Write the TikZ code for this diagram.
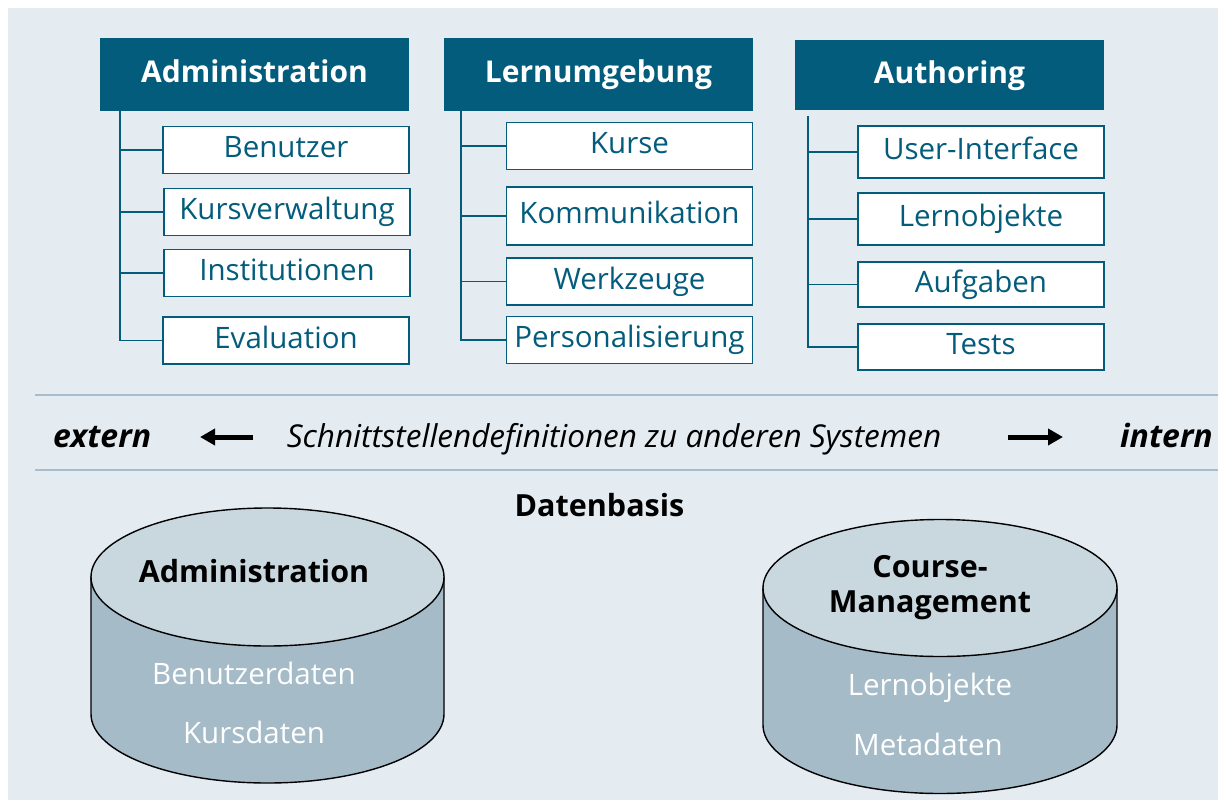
\documentclass[tikz,border=0pt]{standalone}
\usepackage{fontspec}
\setmainfont{Open Sans}
\usetikzlibrary{arrows.meta}
\definecolor{petrol}{HTML}{045C7C}
\definecolor{grund}{HTML}{E4ECF2}
\definecolor{trenner}{HTML}{A9BCCB}
\definecolor{deckel}{HTML}{C9D7DF}
\definecolor{mantel}{HTML}{A5BBC8}
\begin{document}
\begin{tikzpicture}[x=1pt,y=-1pt,
        kopf/.style={fill=petrol,text=white,minimum width=309pt,minimum height=73pt,inner sep=0pt,text height=22pt,text depth=6pt,font=\fontsize{30}{36}\selectfont\bfseries},
        fach/.style={draw=petrol,line width=1.8pt,fill=white,text=petrol,minimum width=246pt,minimum height=47pt,inner sep=0pt,text height=20pt,text depth=5pt,font=\fontsize{29.5}{34}\selectfont},
        ast/.style={draw=petrol,line width=1.5pt},
        zeile/.style={inner sep=0pt,font=\fontsize{31.5}{36}\selectfont\itshape},
        rand/.style={inner sep=0pt,font=\fontsize{32}{36}\selectfont\bfseries\itshape},
        tonne/.style={draw=black,line width=1.4pt},
        titel/.style={inner sep=0pt,align=center,font=\fontsize{30.5}{35}\selectfont\bfseries},
        inhalt/.style={inner sep=0pt,text=white,font=\fontsize{29.5}{34}\selectfont},
        pfeil/.style={line width=5pt,-{Triangle[length=15pt,width=16pt]}}]
        \useasboundingbox (0,0) rectangle (1218,803);
        \fill[grund] (8,8) rectangle (1218,800);

        \draw (254.5,74) node[kopf] (adm) {Administration};
        \draw (598.5,74) node[kopf] (lern) {Lernumgebung};
        \draw (949.5,75) node[kopf,minimum height=70pt] (auth) {Authoring};

        \draw (286,150) node[fach] (adm1) {Benutzer};
        \draw (287,212) node[fach] (adm2) {Kursverwaltung};
        \draw (287,273) node[fach] (adm3) {Institutionen};
        \draw (286,340.5) node[fach] (adm4) {Evaluation};

        \draw (629.5,146) node[fach] (lern1) {Kurse};
        \draw (629.5,216) node[fach,minimum height=58pt] (lern2) {Kommunikation};
        \draw (629.5,281.5) node[fach] (lern3) {Werkzeuge};
        \draw (629.5,340) node[fach] (lern4) {Personalisierung};

        \draw (981,152) node[fach,minimum height=52pt] (auth1) {User-Interface};
        \draw (981,219) node[fach,minimum height=52pt] (auth2) {Lernobjekte};
        \draw (981,284.5) node[fach,minimum height=45pt] (auth3) {Aufgaben};
        \draw (981,347) node[fach,minimum height=46pt] (auth4) {Tests};

        \coordinate (admt) at (120,111);
        \draw[ast] (admt) -- (admt |- adm4.west) -- (adm4.west);
        \draw[ast] (admt |- adm1.west) -- (adm1.west);
        \draw[ast] (admt |- adm2.west) -- (adm2.west);
        \draw[ast] (admt |- adm3.west) -- (adm3.west);

        \coordinate (lernt) at (461,111);
        \draw[ast] (lernt) -- (lernt |- lern4.west) -- (lern4.west);
        \draw[ast] (lernt |- lern1.west) -- (lern1.west);
        \draw[ast] (lernt |- lern2.west) -- (lern2.west);
        \draw[ast] (lernt |- lern3.west) -- (lern3.west);

        \coordinate (autht) at (808,116);
        \draw[ast] (autht) -- (autht |- auth4.west) -- (auth4.west);
        \draw[ast] (autht |- auth1.west) -- (auth1.west);
        \draw[ast] (autht |- auth2.west) -- (auth2.west);
        \draw[ast] (autht |- auth3.west) -- (auth3.west);

        \draw[trenner,line width=2pt] (35,395) -- (1218,395);
        \draw[trenner,line width=2pt] (35,470) -- (1218,470);

        \draw (53,447) node[rand,anchor=base west] (ext) {extern};
        \draw (614,447) node[zeile,anchor=base] (schnitt) {Schnittstellendefinitionen zu anderen Systemen};
        \draw (1213,447) node[rand,anchor=base east] (int) {intern};
        \coordinate (ls) at (253,437);
        \coordinate (le) at (200,437);
        \coordinate (rs) at (1008,437);
        \coordinate (re) at (1063,437);
        \draw[pfeil] (ls) -- (le);
        \draw[pfeil] (rs) -- (re);

        \draw (599.5,516) node[titel,anchor=base] (basis) {Datenbasis};

        \filldraw[tonne,fill=mantel] (91,577) -- (91,714) arc[start angle=180,end angle=360,x radius=176.5pt,y radius=69pt] -- (444,577) -- cycle;
        \filldraw[tonne,fill=deckel] (267.5,577) ellipse [x radius=176.5pt,y radius=69pt];
        \filldraw[tonne,fill=mantel] (763,588) -- (763,725) arc[start angle=180,end angle=360,x radius=177pt,y radius=68.5pt] -- (1117,588) -- cycle;
        \filldraw[tonne,fill=deckel] (940,588) ellipse [x radius=177pt,y radius=68.5pt];

        \draw (254,582) node[titel,anchor=base] (tadm) {Administration};
        \draw (254,684) node[inhalt,anchor=base] (benda) {Benutzerdaten};
        \draw (254,743) node[inhalt,anchor=base] (kursda) {Kursdaten};

        \draw (930,577) node[titel,anchor=base] (tcm1) {Course-};
        \draw (930,612) node[titel,anchor=base] (tcm2) {Management};
        \draw (930,695) node[inhalt,anchor=base] (lob) {Lernobjekte};
        \draw (928,755) node[inhalt,anchor=base] (meta) {Metadaten};
\end{tikzpicture}
\end{document}
